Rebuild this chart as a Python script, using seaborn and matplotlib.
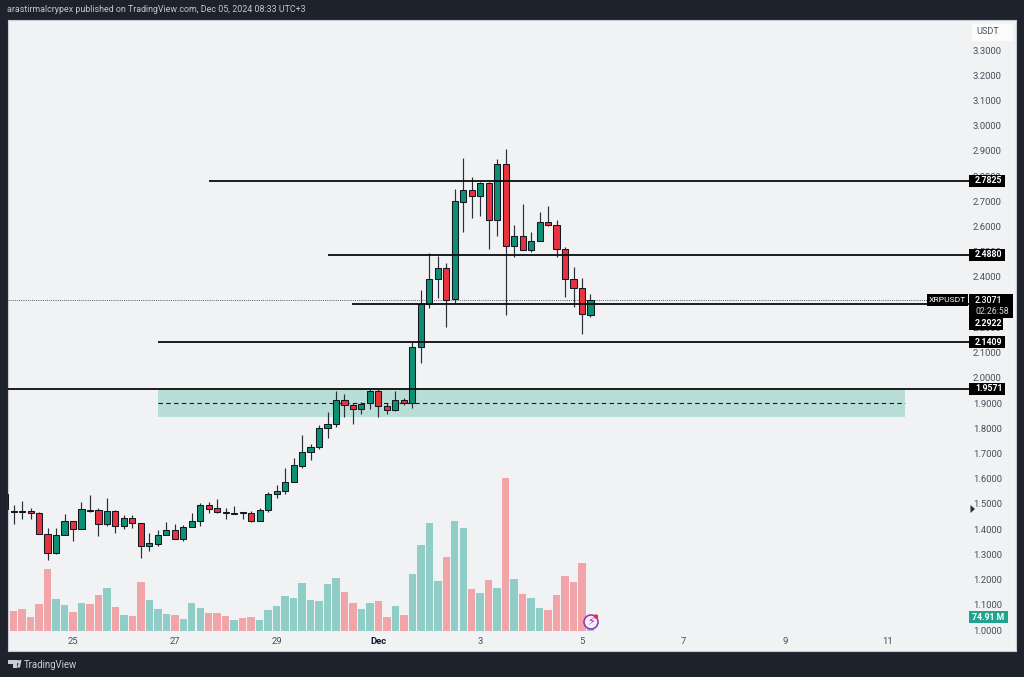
import numpy as np
import pandas as pd
import matplotlib
matplotlib.use("Agg")
import matplotlib.pyplot as plt
import seaborn as sns
from matplotlib.patches import Rectangle, Polygon, Circle
from matplotlib.transforms import Affine2D, blended_transform_factory

# ---- data ----
open_ = [1.540,1.473,1.471,1.471,1.465,1.381,1.304,1.378,1.432,1.401,1.476,1.475,1.422,1.473,1.413,1.444,1.423,1.332,1.343,1.377,1.398,1.362,1.410,1.431,1.495,1.483,1.467,1.462,1.467,1.464,1.432,1.476,1.539,1.550,1.588,1.652,1.707,1.725,1.800,1.817,
         1.911,1.894,1.876,1.899,1.949,1.888,1.871,1.911,1.899,2.121,2.292,2.393,2.437,2.311,2.699,2.744,2.722,2.771,2.626,2.847,2.523,2.564,2.508,2.543,2.618,2.606,2.511,2.393,2.355,2.250]
close = [1.480,1.467,1.467,1.464,1.381,1.306,1.378,1.432,1.401,1.479,1.473,1.422,1.473,1.413,1.444,1.423,1.332,1.344,1.378,1.398,1.362,1.410,1.431,1.495,1.481,1.467,1.463,1.463,1.464,1.431,1.476,1.539,1.550,1.588,1.653,1.707,1.725,1.800,1.817,1.911,
         1.894,1.878,1.896,1.949,1.888,1.871,1.911,1.899,2.121,2.292,2.393,2.437,2.310,2.700,2.744,2.722,2.771,2.626,2.847,2.523,2.564,2.508,2.543,2.618,2.605,2.511,2.393,2.355,2.252,2.307]
high = [1.555,1.496,1.510,1.483,1.468,1.403,1.403,1.459,1.432,1.506,1.537,1.483,1.524,1.476,1.455,1.455,1.423,1.384,1.397,1.428,1.419,1.415,1.465,1.505,1.506,1.520,1.483,1.492,1.469,1.472,1.484,1.546,1.576,1.644,1.681,1.773,1.736,1.813,1.866,1.948,
        1.936,1.899,1.906,1.954,1.954,1.899,1.949,1.919,2.145,2.348,2.494,2.484,2.454,2.747,2.870,2.798,2.775,2.778,2.868,2.906,2.605,2.688,2.578,2.656,2.680,2.626,2.520,2.439,2.395,2.332]
low = [1.476,1.420,1.442,1.439,1.381,1.279,1.300,1.376,1.354,1.401,1.467,1.374,1.413,1.384,1.402,1.406,1.284,1.315,1.335,1.377,1.360,1.354,1.407,1.413,1.464,1.464,1.442,1.460,1.439,1.428,1.431,1.467,1.525,1.539,1.586,1.644,1.674,1.718,1.763,1.804,
       1.846,1.818,1.855,1.878,1.846,1.855,1.869,1.892,1.881,2.060,2.278,2.317,2.202,2.298,2.578,2.634,2.642,2.510,2.561,2.250,2.481,2.508,2.498,2.541,2.602,2.478,2.319,2.280,2.173,2.243]
volume_m = [305,115,129,83,157,359,186,148,111,161,154,205,246,136,94,84,284,179,125,96,90,69,161,131,102,102,84,63,75,81,65,123,144,200,192,278,179,175,271,305,
            223,163,125,163,173,81,144,92,330,493,620,288,426,632,595,242,217,294,248,879,301,213,188,132,123,205,317,284,390,74.91]
levels = [2.7825, 2.4880, 2.2922, 2.1409, 1.9571]
level_start_day = [27.67, 30.0, 30.48, 26.67, 23.7]
zone_low, zone_mid, zone_high = 1.845, 1.900, 1.957
zone_days = (26.67, 41.35)
last_price = 2.3071
price_ticks = [3.3,3.2,3.1,3.0,2.9,2.8,2.7,2.6,2.5,2.4,2.3,2.2,2.1,2.0,1.9,1.8,1.7,1.6,1.5,1.4,1.3,1.2,1.1,1.0]
day_ticks = [25,27,29,31,33,35,37,39,41]
day_labels = ["25","27","29","Dec","3","5","7","9","11"]

stamps = pd.date_range("2024-11-23 16:00", periods=len(close), freq="4h")
days = np.asarray((stamps - pd.Timestamp("2024-11-25")) / pd.Timedelta(days=1)) + 25
o, c, h, l = map(np.asarray, (open_, close, high, low))
up = c >= o

BG = "#1e222d"; PANEL = "#f0f2f4"; INK = "#131722"; AXTXT = "#4a4e5a"
RED = "#e8323f"; GREEN = "#0e8f73"; VRED = "#f2a5a8"; VGREEN = "#90cdc7"

sns.set_theme(style="white")
plt.rcParams["font.family"] = ["Roboto", "DejaVu Sans"]
W, H = 1024, 677
fig = plt.figure(figsize=(W/100, H/100), dpi=100, facecolor=BG)
rect = [8/W, 1-651/H, (1016-8)/W, (651-20)/H]
axv = fig.add_axes(rect, facecolor=PANEL)
ax = fig.add_axes(rect, facecolor="none")
pix = Affine2D().scale(1, -1).translate(0, H)
xlim = (25+(8-73)/50.9, 25+(1016-73)/50.9)
ylim = (3.3-(651-50)/252.2, 3.3-(20-50)/252.2)

# volume
vdf = pd.DataFrame({"day": days, "vol": volume_m, "dir": np.where(up, "up", "down")})
sns.barplot(data=vdf, x="day", y="vol", hue="dir", native_scale=True, dodge=False, width=0.88,
            palette={"up": VGREEN, "down": VRED}, legend=False, ax=axv, saturation=1, linewidth=0)
axv.set_xlim(xlim)
axv.set_ylim(-20*5.76, 611*5.76)
axv.set_yticks([]); axv.set_xticks([]); axv.set_xlabel(""); axv.set_ylabel("")
for s in axv.spines.values():
    s.set_color("#c9ccd3"); s.set_linewidth(0.8)

# zone
ax.add_patch(Rectangle((zone_days[0], zone_low), zone_days[1]-zone_days[0], zone_high-zone_low,
                       fc="#b9ddd7", ec="none", zorder=0.5))
ax.hlines(zone_mid, *zone_days, color=INK, lw=0.8, ls=(0, (4, 3)), zorder=0.7)

# candles
ax.vlines(days, l, h, color="#2a2e39", lw=0.85, zorder=2)
ax.bar(days, np.maximum(np.abs(c-o), 0.001), bottom=np.minimum(o, c), width=0.12,
       color=np.where(up, GREEN, RED), edgecolor=INK, linewidth=0.75, zorder=2.2)

# levels
for lv, st in zip(levels, level_start_day):
    ax.plot([st, 25+(969-73)/50.9], [lv, lv], color="#0b0b0b", lw=1.3, zorder=3, solid_capstyle="butt")
ax.plot([xlim[0], 25+(927-73)/50.9], [last_price, last_price], color="#555a66", lw=0.7, ls=(0, (1, 1.2)), zorder=1)

ax.set_xlim(xlim); ax.set_ylim(ylim)
ax.set_xticks(day_ticks, day_labels)
ax.set_yticks(price_ticks, [f"{v:.4f}" for v in price_ticks])
ax.yaxis.tick_right()
ax.tick_params(axis="y", length=0, pad=-31, labelsize=6.8, labelcolor=AXTXT)
ax.tick_params(axis="x", length=0, pad=-10, labelsize=6.8, labelcolor=AXTXT)
for t in ax.get_xticklabels():
    if t.get_text() == "Dec":
        t.set_fontweight("bold"); t.set_color(INK)
ax.grid(False)
for s in ax.spines.values():
    s.set_visible(False)

# price tags
bt = blended_transform_factory(pix, ax.transData)
def tag(price, x0, x1, text, fc="black", fg="white", tx=None, weight="bold", up_px=6, dn_px=6, size=6.3):
    ax.add_patch(Rectangle((x0, price-dn_px/252.2), x1-x0, (up_px+dn_px)/252.2, transform=bt,
                           fc=fc, ec="none", zorder=8, clip_on=False))
    ax.text(tx if tx else (x0+x1)/2, price, text, transform=bt, color=fg, fontsize=size, fontweight=weight,
            ha="left" if tx else "center", va="center", zorder=9, clip_on=False)

for lv in [2.7825, 2.4880, 2.1409, 1.9571]:
    tag(lv, 969, 1005, f"{lv:.4f}", tx=975)
tag(last_price, 969, 1013, "2.3071", tx=975, weight="medium", up_px=6, dn_px=18)
ax.text(975, last_price-11.5/252.2, "02:26:58", transform=bt, color="#d8dae0", fontsize=6.3, va="center", ha="left", zorder=9)
# the 2.2922 tag sits pushed below the countdown, as on the axis of the original
tag(last_price-23.5/252.2, 969, 1003, "2.2922", tx=975, up_px=6, dn_px=6.5)
tag(last_price, 927, 967.5, "XRPUSDT", weight="normal", up_px=6, dn_px=6, size=6.1)
tag(1.0502, 969, 1008, "74.91 M", fc="#22a390", up_px=6.5, dn_px=6, size=6.3)

# USDT unit box and misc axis glyphs
ax.add_patch(Rectangle((972, 24), 41, 17, transform=pix, fc="#fbfbfc", ec="none", zorder=1, clip_on=False))
ax.text(988, 32, "USDT", transform=pix, fontsize=6.6, color=AXTXT, ha="center", va="center", zorder=9)
ax.add_patch(Polygon([(970.5, 505), (975, 509), (970.5, 513)], transform=pix, fc="#2a2e39", ec="none", zorder=9))

# publish icon
ax.add_patch(Circle((591, 622), 7, transform=pix, fc="#f7f0fa", ec="#8e2fb8", lw=1.1, zorder=9))
ax.text(591, 622, "⚡", transform=pix, fontsize=8, color="#8e2fb8", ha="center", va="center",
        family="DejaVu Sans", zorder=10)
ax.add_patch(Circle((596, 616.5), 2.2, transform=pix, fc="#e8323f", ec="none", zorder=11))

# header / footer
fig.text(7/W, 1-10/H, "arastirmalcrypex published on TradingView.com, Dec 05, 2024 08:33 UTC+3",
         color="#c3c7d0", fontsize=6.4, va="center", ha="left")
LOGO = "#c9cdd5"
ax.add_patch(Polygon([(7.5, 660), (16.5, 660), (16.5, 667.5), (12.5, 667.5), (12.5, 663.5), (7.5, 663.5)],
                     transform=pix, fc=LOGO, ec="none", clip_on=False))
ax.add_patch(Circle((18.3, 661.7), 1.7, transform=pix, fc=LOGO, ec="none", clip_on=False))
ax.add_patch(Polygon([(17, 667.5), (19.8, 660), (21.5, 660), (20, 667.5)], transform=pix, fc=LOGO, ec="none", clip_on=False))
fig.text(24/W, 1-664.5/H, "TradingView", color=LOGO, fontsize=6.9, va="center", ha="left")

fig.savefig("out.png", dpi=100, facecolor=BG)
